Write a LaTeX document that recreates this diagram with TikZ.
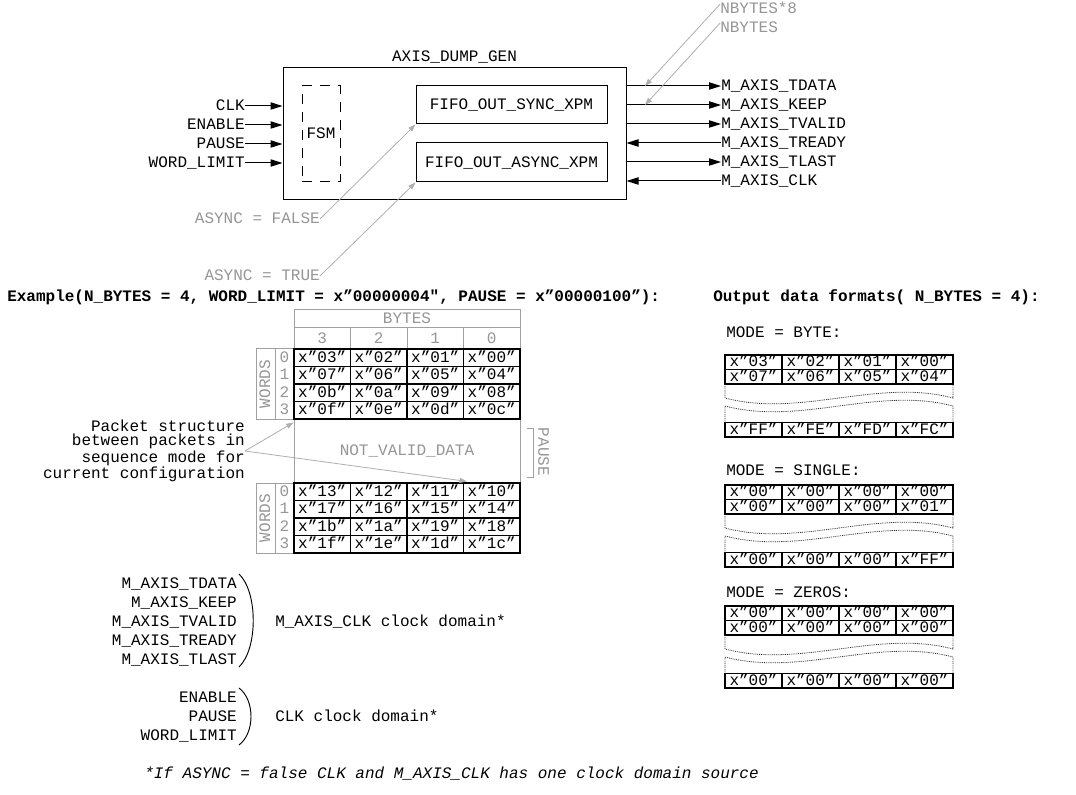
\documentclass[tikz,border=0pt]{standalone}
\usepackage{fontspec}
\setmonofont{Liberation Mono}
\renewcommand{\familydefault}{\ttdefault}
\usetikzlibrary{arrows.meta,calc}
\definecolor{tgray}{RGB}{150,150,150}
\definecolor{lgray}{RGB}{175,175,175}
\definecolor{ggray}{RGB}{160,160,160}
\newcommand\fs{\fontsize{12}{14}\selectfont}
\newcommand\hx[1]{x”#1”}
\tikzset{
  base/.style={inner sep=0pt, font=\fs, text height=6.8pt, text depth=0pt},
  glabel/.style={base, text=tgray},
  blk/.style={base, draw, line width=0.75pt},
  sig/.style={line width=0.75pt, -{Triangle[length=9pt,width=5.5pt]}},
  gsig/.style={line width=0.6pt, draw=lgray, -{Triangle[length=5.5pt,width=3.8pt]}, color=lgray},
  grid/.style={draw=ggray, line width=0.75pt},
  dcell/.style={base, draw, line width=0.9pt, minimum width={56.5*0.75pt}, minimum height={17.5*0.75pt}},
  mcell/.style={base, draw, line width=0.9pt, minimum width={57*0.75pt}, minimum height={14.5*0.75pt}},
  wav/.style={dash pattern=on 0.7pt off 0.7pt, line width=0.6pt, black!80},
  paren/.style={line width=0.7pt},
}
\newcommand\mtab[5]{%
  \foreach \v [count=\j from 0] in {#3} \node[mcell] (#2-a\j) at (753.5+57*\j, #1+7.25) {\hx{\v}};
  \foreach \v [count=\j from 0] in {#4} \node[mcell] (#2-b\j) at (753.5+57*\j, #1+21.75) {\hx{\v}};
  \foreach \v [count=\j from 0] in {#5} \node[mcell] (#2-c\j) at (753.5+57*\j, #1+74.75) {\hx{\v}};
  \draw[wav] (725,#1+29) -- (725,#1+43) .. controls (801,#1+63) and (877,#1+23) .. (953,#1+43) -- (953,#1+29);
  \draw[wav] (725,#1+67.5) -- (725,#1+51) .. controls (801,#1+71) and (877,#1+31) .. (953,#1+51) -- (953,#1+67.5);
}
\begin{document}
\begin{tikzpicture}[x=0.75pt,y=-0.75pt]
\useasboundingbox (0,0) rectangle (1076,795);
\fill[white] (0,0) rectangle (1076,795);

% ---------- top block ----------
\node[blk, minimum width={343*0.75pt}, minimum height={132*0.75pt}] (dut) at (454.5,134) {};
\node[base] (title) at (454.5,57) {AXIS\_DUMP\_GEN};
\node[blk, dash pattern=on 7.5pt off 6pt, minimum width={38*0.75pt}, minimum height={96*0.75pt}] (fsm) at (321,134) {FSM};
\node[blk, minimum width={191*0.75pt}, minimum height={38*0.75pt}] (sync) at (511.5,105) {FIFO\_OUT\_SYNC\_XPM};
\node[blk, minimum width={191*0.75pt}, minimum height={39*0.75pt}] (async) at (511.5,162.5) {FIFO\_OUT\_ASYNC\_XPM};

\foreach \n/\t/\y in {clk/CLK/106, en/ENABLE/125, pause/PAUSE/144, wl/WORD\_LIMIT/163} {
  \node[base, anchor=east] (in-\n) at (245,\y) {\t};
  \draw[sig] (in-\n.east) -- (in-\n.east -| dut.west);
}

\node[base, anchor=west] (o-tdata) at (721,86) {M\_AXIS\_TDATA};
\node[base, anchor=west] (o-keep) at (721,105) {M\_AXIS\_KEEP};
\node[base, anchor=west] (o-tvalid) at (721,124) {M\_AXIS\_TVALID};
\node[base, anchor=west] (o-tready) at (721,143) {M\_AXIS\_TREADY};
\node[base, anchor=west] (o-tlast) at (721,162) {M\_AXIS\_TLAST};
\node[base, anchor=west] (o-mclk) at (721,181) {M\_AXIS\_CLK};
\draw[sig] (o-tdata.west -| dut.east) -- (o-tdata.west);
\draw[sig] (o-keep.west -| dut.east) -- (o-keep.west);
\draw[sig] (o-tvalid.west -| dut.east) -- (o-tvalid.west);
\draw[sig] (o-tready.west) -- (o-tready.west -| dut.east);
\draw[sig] (o-tlast.west -| dut.east) -- (o-tlast.west);
\draw[sig] (o-mclk.west) -- (o-mclk.west -| dut.east);

\node[glabel, anchor=west] (nb8) at (720,9) {NBYTES*8};
\node[glabel, anchor=west] (nb) at (720,28) {NBYTES};
\coordinate (nb8tip) at (645,86);
\coordinate (nbtip) at (645,105);
\draw[gsig] (nb8.north west) -- (nb8tip);
\draw[gsig] (nb.north west) -- (nbtip);

\node[glabel, anchor=east] (afalse) at (320,219) {ASYNC = FALSE};
\node[glabel, anchor=east] (atrue) at (320,276) {ASYNC = TRUE};
\draw[gsig] (afalse.east) -- (sync.south west);
\draw[gsig] (atrue.east) -- (async.south west);

% ---------- headings ----------
\node[base, anchor=west, font=\fs\bfseries] (ex) at (7,297) {Example(N\_BYTES = 4, WORD\_LIMIT = x”00000004", PAUSE = x”00000100”):};
\node[base, anchor=west, font=\fs\bfseries] (odf) at (713,297) {Output data formats( N\_BYTES = 4):};

% ---------- example table ----------
\draw[grid] (294,310) rectangle (520,349);
\draw[grid] (294,328) -- (520,328);
\foreach \x in {350.5,407,463.5} \draw[grid] (\x,328) -- (\x,349);
\node[glabel] (bytes) at (407,319) {BYTES};
\foreach \t [count=\j from 0] in {3,2,1,0} \node[glabel] (bh\j) at (322.25+56.5*\j,338.5) {\t};

\draw[grid] (256,349) rectangle (294,419);
\draw[grid] (275,349) -- (275,419);
\node[glabel, rotate=90] (words1) at (265.5,384) {WORDS};
\draw[grid] (256,483) rectangle (294,553);
\draw[grid] (275,483) -- (275,553);
\node[glabel, rotate=90] (words2) at (265.5,518) {WORDS};
\foreach \r in {0,1,2,3} {
  \node[glabel] (ia\r) at (284.5,357.75+17.5*\r) {\r};
  \node[glabel] (ib\r) at (284.5,491.75+17.5*\r) {\r};
}

\node[glabel, draw=ggray, line width=0.75pt, minimum width={226*0.75pt}, minimum height={64*0.75pt}] (nv) at (407,451) {NOT\_VALID\_DATA};

\foreach \a/\b/\c/\d [count=\r from 0] in {03/02/01/00, 07/06/05/04, 0b/0a/09/08, 0f/0e/0d/0c} {
  \node[dcell] (p\r-0) at (322.25,357.75+17.5*\r) {\hx{\a}};
  \node[dcell] (p\r-1) at (378.75,357.75+17.5*\r) {\hx{\b}};
  \node[dcell] (p\r-2) at (435.25,357.75+17.5*\r) {\hx{\c}};
  \node[dcell] (p\r-3) at (491.75,357.75+17.5*\r) {\hx{\d}};
}
\foreach \a/\b/\c/\d [count=\r from 0] in {13/12/11/10, 17/16/15/14, 1b/1a/19/18, 1f/1e/1d/1c} {
  \node[dcell] (q\r-0) at (322.25,491.75+17.5*\r) {\hx{\a}};
  \node[dcell] (q\r-1) at (378.75,491.75+17.5*\r) {\hx{\b}};
  \node[dcell] (q\r-2) at (435.25,491.75+17.5*\r) {\hx{\c}};
  \node[dcell] (q\r-3) at (491.75,491.75+17.5*\r) {\hx{\d}};
}

\draw[grid] (527,428) -- (533,428) -- (533,477) -- (527,477);
\node[glabel, rotate=-90] (pz) at (543,452) {PAUSE};

\node[anchor=east, align=right, inner sep=0pt, font=\fontsize{12}{10.5}\selectfont] (pkt) at (245,451) {Packet structure\\between packets in\\sequence mode for\\current configuration};
\coordinate (pt1) at ($(nv.north west)+(0,4)$);
\coordinate (pt2) at ($(q0-3.north west)+(4,-1)$);
\draw[gsig] (pkt.east) -- (pt1);
\draw[gsig] (pkt.east) -- (pt2);

% ---------- output formats ----------
\node[base, anchor=west] (mbyte) at (726,333) {MODE = BYTE:};
\mtab{355}{mb}{03,02,01,00}{07,06,05,04}{FF,FE,FD,FC}
\node[base, anchor=west] (msingle) at (726,471) {MODE = SINGLE:};
\mtab{485}{ms}{00,00,00,00}{00,00,00,01}{00,00,00,FF}
\node[base, anchor=west] (mzeros) at (726,593) {MODE = ZEROS:};
\mtab{606}{mz}{00,00,00,00}{00,00,00,00}{00,00,00,00}

% ---------- clock domains ----------
\foreach \t/\y [count=\i] in {M\_AXIS\_TDATA/584, M\_AXIS\_KEEP/603, M\_AXIS\_TVALID/622, M\_AXIS\_TREADY/641, M\_AXIS\_TLAST/660}
  \node[base, anchor=east] (d1-\i) at (237,\y) {\t};
\draw[paren] (239,574) .. controls (258,592) and (258,649) .. (239,667);
\node[base, anchor=west] (dom1) at (275,622) {M\_AXIS\_CLK clock domain*};
\foreach \t/\y [count=\i] in {ENABLE/698, PAUSE/717, WORD\_LIMIT/736}
  \node[base, anchor=east] (d2-\i) at (237,\y) {\t};
\draw[paren] (239,688) .. controls (255,700) and (255,733) .. (239,745);
\node[base, anchor=west] (dom2) at (275,717) {CLK clock domain*};

\node[base, anchor=west, font=\fs\itshape] (foot) at (144,774) {*If ASYNC = false CLK and M\_AXIS\_CLK has one clock domain source};
\end{tikzpicture}
\end{document}
